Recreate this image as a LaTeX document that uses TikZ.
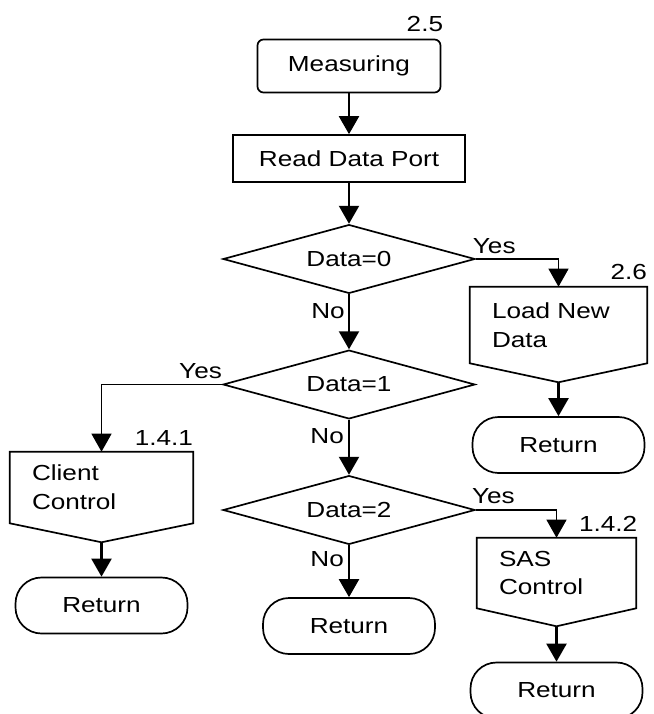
\documentclass[tikz,border=0pt]{standalone}
\usepackage{fontspec}
\setmainfont{Liberation Sans}[FakeStretch=1.2]
\usetikzlibrary{calc,shapes.geometric,arrows.meta,positioning}

\begin{document}
\begin{tikzpicture}[
  font=\fontsize{15.5}{20.5}\selectfont,
  startbox/.style={draw, line width=1.2pt, rounded corners=0.15cm, minimum width=4.575cm, minimum height=1.325cm},
  procbox/.style={draw, line width=1.2pt, minimum width=5.8cm, minimum height=1.175cm},
  decision/.style={diamond, draw, line width=1.2pt, aspect=3.7, inner sep=0pt, minimum width=6.3cm, minimum height=1.72cm},
  iobox/.style={inner xsep=0.55cm, inner ysep=0pt, align=left},
  endbox/.style={draw, line width=1.2pt, rounded corners=0.65cm, minimum width=4.3cm, minimum height=1.4cm},
  flow/.style={line width=1.6pt, -{Triangle[length=0.45cm, width=0.5cm]}},
  branch/.style={line width=0.8pt, -{Triangle[length=0.45cm, width=0.5cm]}},
  refnum/.style={anchor=base east, inner sep=0pt},
  answer/.style={inner sep=0pt}
]
  \useasboundingbox (0,0) rectangle (16.325,-17.85);

  % Main column
  \node[startbox] (measure) at (8.725,-1.65) {Measuring};
  \node[procbox] (readport) at (8.725,-3.9625) {Read Data Port};
  \node[decision] (dec0) at (8.725,-6.475) {Data=0};
  \node[decision] (dec1) at (8.725,-9.6125) {Data=1};
  \node[decision] (dec2) at (8.725,-12.75) {Data=2};
  \node[endbox] (ret3) at (8.725,-15.65) {Return};

  % Branches
  \node[iobox, text width=3.325cm, minimum height=1.9cm] (load) at (13.9625,-8.125) {Load New\\Data};
  \node[endbox] (ret1) at (13.9625,-11.125) {Return};
  \node[iobox, text width=3.475cm, minimum height=1.775cm] (client) at (2.5375,-12.1875) {Client\\Control};
  \node[endbox] (ret2) at (2.5375,-15.1375) {Return};
  \node[iobox, text width=2.875cm, minimum height=1.75cm] (sas) at (13.9125,-14.325) {SAS\\Control};
  \node[endbox] (ret4) at (13.9125,-17.2625) {Return};

  % Pointed outlines
  \foreach \n/\d in {load/0.475, client/0.475, sas/0.45} {
    \coordinate (\n tip) at ($(\n.south)+(0,-\d)$);
    \draw[line width=1.2pt] (\n.north west) -- (\n.north east) -- (\n.south east) -- (\n tip) -- (\n.south west) -- cycle;
  }

  % Reference numbers
  \node[refnum] (num25) at ($(measure.north east)+(0.05,0.17)$) {2.5};
  \node[refnum] (num26) at ($(load.north east)+(0,0.17)$) {2.6};
  \node[refnum] (num141) at ($(client.north east)+(0,0.16)$) {1.4.1};
  \node[refnum] (num142) at ($(sas.north east)+(0.03,0.16)$) {1.4.2};

  % Connectors
  \draw[flow] (measure) -- (readport);
  \draw[flow] (readport) -- (dec0);
  \draw[flow] (dec0) -- (dec1);
  \draw[flow] (dec1) -- (dec2);
  \draw[flow] (dec2) -- (ret3);
  \draw[branch] (dec0.east) -| (load.north);
  \draw[branch] (dec1.west) -| (client.north);
  \draw[branch] (dec2.east) -| (sas.north);
  \draw[flow] (loadtip) -- (ret1);
  \draw[flow] (clienttip) -- (ret2);
  \draw[flow] (sastip) -- (ret4);

  % Yes / No
  \node[answer, anchor=base west] (yes0) at ($(dec0.east)+(-0.08,0.15)$) {Yes};
  \node[answer, anchor=base east] (yes1) at ($(dec1.west)+(0,0.15)$) {Yes};
  \node[answer, anchor=base west] (yes2) at ($(dec2.east)+(-0.1,0.175)$) {Yes};
  \node[answer, anchor=north east] (no0) at ($(dec0.south)+(-0.1,-0.22)$) {No};
  \node[answer, anchor=north east] (no1) at ($(dec1.south)+(-0.12,-0.2)$) {No};
  \node[answer, anchor=north east] (no2) at ($(dec2.south)+(-0.12,-0.14)$) {No};
\end{tikzpicture}
\end{document}
